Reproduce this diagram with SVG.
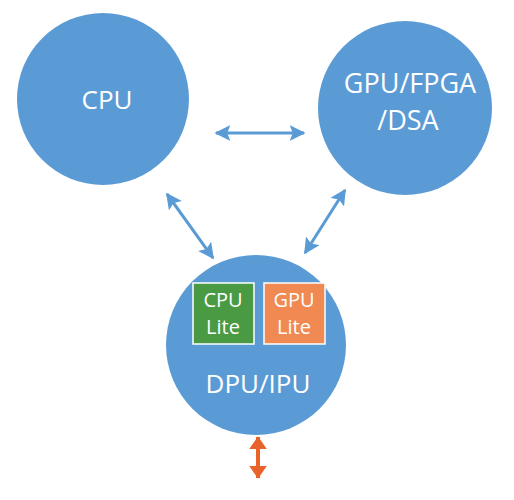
<svg xmlns="http://www.w3.org/2000/svg" width="514" height="500" viewBox="0 0 514 500">
<style>
.node{fill:#5b9bd5}
.t{font-family:"Open Sans","Liberation Sans",sans-serif;fill:#fff;text-anchor:middle}
.big{font-size:26px}
.gpu{font-size:27px}
.small{font-size:20px}
.conn{stroke:#5b9bd5;stroke-width:3;fill:none}
.or{stroke:#e8622a;stroke-width:4;fill:none}
</style>
<defs>
<marker id="ah" viewBox="0 0 10 10" refX="9" refY="5" markerWidth="16" markerHeight="16" markerUnits="userSpaceOnUse" orient="auto-start-reverse">
<path d="M0,0 L10,5 L0,10 L2,5 Z" fill="#5b9bd5"/>
</marker>
<marker id="ao" viewBox="0 0 10 10" refX="9.5" refY="5" markerWidth="13" markerHeight="18" markerUnits="userSpaceOnUse" orient="auto-start-reverse" preserveAspectRatio="none">
<path d="M0,0 L10,5 L0,10 Z" fill="#e8622a"/>
</marker>
</defs>
<rect width="514" height="500" fill="#fff"/>
<g id="cpu">
<circle class="node" cx="103" cy="99" r="86"/>
<text class="t big" x="107" y="109">CPU</text>
</g>
<g id="gpu">
<circle class="node" cx="405" cy="108" r="87"/>
<text class="t gpu" x="410" y="93">GPU/FPGA</text>
<text class="t gpu" x="408" y="130">/DSA</text>
</g>
<g id="dpu">
<circle class="node" cx="256" cy="345" r="90"/>
<text class="t big" x="258" y="393">DPU/IPU</text>
</g>
<g id="cpulite">
<rect x="193" y="283" width="61" height="61" fill="#4a9a44" stroke="#fff" stroke-width="1.5"/>
<text class="t small" x="223" y="307">CPU</text>
<text class="t small" x="223" y="334">Lite</text>
</g>
<g id="gpulite">
<rect x="264" y="283" width="61" height="61" fill="#f08a52" stroke="#fff" stroke-width="1.5"/>
<text class="t small" x="294" y="307">GPU</text>
<text class="t small" x="294" y="334">Lite</text>
</g>
<g id="connectors">
<line class="conn" x1="216" y1="133" x2="304" y2="133" marker-start="url(#ah)" marker-end="url(#ah)"/>
<line class="conn" x1="167" y1="194" x2="213" y2="258" marker-start="url(#ah)" marker-end="url(#ah)"/>
<line class="conn" x1="345" y1="190" x2="305" y2="253" marker-start="url(#ah)" marker-end="url(#ah)"/>
<line class="or" x1="258" y1="437" x2="258" y2="478" marker-start="url(#ao)" marker-end="url(#ao)"/>
</g>
</svg>
